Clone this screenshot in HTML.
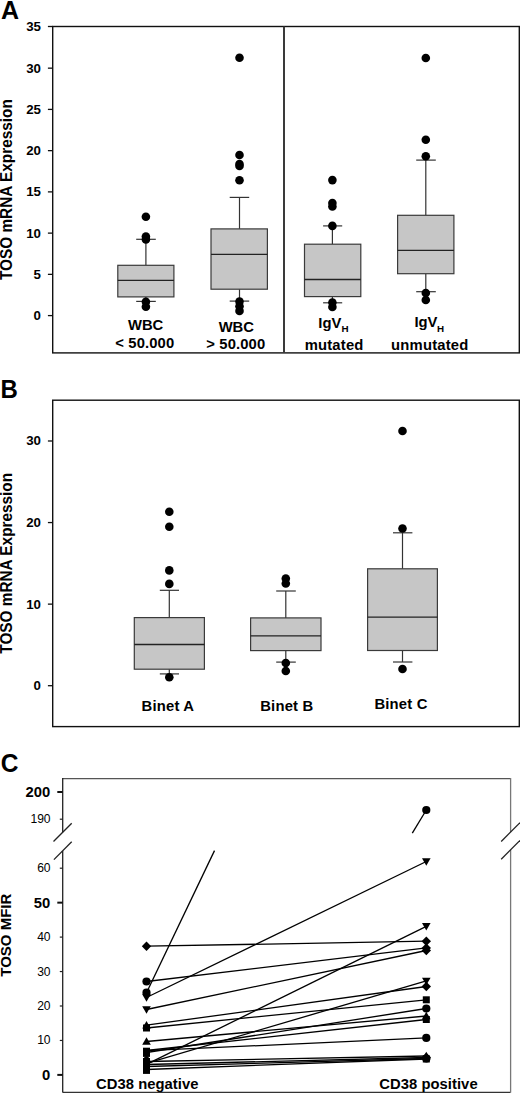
<!DOCTYPE html>
<html><head><meta charset="utf-8"><style>
html,body{margin:0;padding:0;background:#fff;overflow:hidden;}
svg{display:block;font-family:"Liberation Sans", sans-serif;}
</style></head><body>
<svg width="520" height="1095" viewBox="0 0 520 1095">
<rect width="520" height="1095" fill="#fff"/>
<text transform="translate(1.0,18.6) scale(1,1.03)" font-size="25" font-weight="bold" text-anchor="start">A</text>
<rect x="52.7" y="26.5" width="466.6" height="326.4" fill="none" stroke="#111" stroke-width="1.4"/>
<line x1="284" y1="26.5" x2="284" y2="352.9" stroke="#3a3a3a" stroke-width="2"/>
<line x1="47.9" y1="315.6" x2="52.7" y2="315.6" stroke="#111" stroke-width="1.3"/>
<text x="41.0" y="320.1" font-size="13.3" font-weight="bold" text-anchor="end">0</text>
<line x1="47.9" y1="274.36" x2="52.7" y2="274.36" stroke="#111" stroke-width="1.3"/>
<text x="41.0" y="278.86" font-size="13.3" font-weight="bold" text-anchor="end">5</text>
<line x1="47.9" y1="233.12" x2="52.7" y2="233.12" stroke="#111" stroke-width="1.3"/>
<text x="41.0" y="237.62" font-size="13.3" font-weight="bold" text-anchor="end">10</text>
<line x1="47.9" y1="191.88" x2="52.7" y2="191.88" stroke="#111" stroke-width="1.3"/>
<text x="41.0" y="196.38" font-size="13.3" font-weight="bold" text-anchor="end">15</text>
<line x1="47.9" y1="150.64" x2="52.7" y2="150.64" stroke="#111" stroke-width="1.3"/>
<text x="41.0" y="155.14" font-size="13.3" font-weight="bold" text-anchor="end">20</text>
<line x1="47.9" y1="109.4" x2="52.7" y2="109.4" stroke="#111" stroke-width="1.3"/>
<text x="41.0" y="113.9" font-size="13.3" font-weight="bold" text-anchor="end">25</text>
<line x1="47.9" y1="68.16" x2="52.7" y2="68.16" stroke="#111" stroke-width="1.3"/>
<text x="41.0" y="72.66" font-size="13.3" font-weight="bold" text-anchor="end">30</text>
<line x1="47.9" y1="26.5" x2="52.7" y2="26.5" stroke="#111" stroke-width="1.3"/>
<text x="41.0" y="31.0" font-size="13.3" font-weight="bold" text-anchor="end">35</text>
<text x="0" y="0" font-size="15.35" font-weight="bold" text-anchor="middle" transform="translate(11.8,189.6) rotate(-90) scale(1,1.04)">TOSO mRNA Expression</text>
<line x1="145.9" y1="239.3" x2="145.9" y2="265.3" stroke="#333" stroke-width="1.2"/>
<line x1="145.9" y1="296.9" x2="145.9" y2="301.4" stroke="#333" stroke-width="1.2"/>
<line x1="136.2" y1="239.3" x2="155.8" y2="239.3" stroke="#333" stroke-width="1.2"/>
<line x1="136.2" y1="301.4" x2="155.8" y2="301.4" stroke="#333" stroke-width="1.2"/>
<rect x="117.8" y="265.3" width="56.10000000000001" height="31.599999999999966" fill="#c6c6c6" stroke="#3a3a3a" stroke-width="1.2"/>
<line x1="117.8" y1="280.4" x2="173.9" y2="280.4" stroke="#222" stroke-width="1.3"/>
<circle cx="145.9" cy="216.8" r="4.3" fill="#000"/>
<circle cx="145.9" cy="236.5" r="4.3" fill="#000"/>
<circle cx="145.9" cy="239.5" r="4.3" fill="#000"/>
<circle cx="145.9" cy="301.8" r="4.3" fill="#000"/>
<circle cx="145.9" cy="306.8" r="4.3" fill="#000"/>
<line x1="239.5" y1="197.4" x2="239.5" y2="228.9" stroke="#333" stroke-width="1.2"/>
<line x1="239.5" y1="289.2" x2="239.5" y2="301.1" stroke="#333" stroke-width="1.2"/>
<line x1="229.7" y1="197.4" x2="249.2" y2="197.4" stroke="#333" stroke-width="1.2"/>
<line x1="229.7" y1="301.1" x2="249.2" y2="301.1" stroke="#333" stroke-width="1.2"/>
<rect x="211" y="228.9" width="56.39999999999998" height="60.29999999999998" fill="#c6c6c6" stroke="#3a3a3a" stroke-width="1.2"/>
<line x1="211" y1="254.3" x2="267.4" y2="254.3" stroke="#222" stroke-width="1.3"/>
<circle cx="239.5" cy="57.8" r="4.3" fill="#000"/>
<circle cx="239.5" cy="155" r="4.3" fill="#000"/>
<circle cx="239.5" cy="164" r="4.3" fill="#000"/>
<circle cx="239.5" cy="166" r="4.3" fill="#000"/>
<circle cx="239.5" cy="180.3" r="4.3" fill="#000"/>
<circle cx="239.5" cy="301.5" r="4.3" fill="#000"/>
<circle cx="239.5" cy="306.2" r="4.3" fill="#000"/>
<circle cx="239.5" cy="310.9" r="4.3" fill="#000"/>
<line x1="332.4" y1="225.9" x2="332.4" y2="244.2" stroke="#333" stroke-width="1.2"/>
<line x1="332.4" y1="296.6" x2="332.4" y2="302.8" stroke="#333" stroke-width="1.2"/>
<line x1="323.1" y1="225.9" x2="342.2" y2="225.9" stroke="#333" stroke-width="1.2"/>
<line x1="323.1" y1="302.8" x2="342.2" y2="302.8" stroke="#333" stroke-width="1.2"/>
<rect x="304.5" y="244.2" width="56.30000000000001" height="52.400000000000034" fill="#c6c6c6" stroke="#3a3a3a" stroke-width="1.2"/>
<line x1="304.5" y1="279.5" x2="360.8" y2="279.5" stroke="#222" stroke-width="1.3"/>
<circle cx="332.4" cy="180.1" r="4.3" fill="#000"/>
<circle cx="332.4" cy="203" r="4.3" fill="#000"/>
<circle cx="332.4" cy="206.5" r="4.3" fill="#000"/>
<circle cx="332.4" cy="225.9" r="4.3" fill="#000"/>
<circle cx="332.4" cy="302.5" r="4.3" fill="#000"/>
<circle cx="332.4" cy="307" r="4.3" fill="#000"/>
<line x1="425.8" y1="160.1" x2="425.8" y2="215.3" stroke="#333" stroke-width="1.2"/>
<line x1="425.8" y1="273.7" x2="425.8" y2="291.7" stroke="#333" stroke-width="1.2"/>
<line x1="416.2" y1="160.1" x2="435.8" y2="160.1" stroke="#333" stroke-width="1.2"/>
<line x1="416.2" y1="291.7" x2="435.8" y2="291.7" stroke="#333" stroke-width="1.2"/>
<rect x="397.6" y="215.3" width="56.299999999999955" height="58.39999999999998" fill="#c6c6c6" stroke="#3a3a3a" stroke-width="1.2"/>
<line x1="397.6" y1="250.3" x2="453.9" y2="250.3" stroke="#222" stroke-width="1.3"/>
<circle cx="425.8" cy="58" r="4.3" fill="#000"/>
<circle cx="425.8" cy="139.7" r="4.3" fill="#000"/>
<circle cx="425.8" cy="156.2" r="4.3" fill="#000"/>
<circle cx="425.8" cy="293" r="4.3" fill="#000"/>
<circle cx="425.8" cy="300" r="4.3" fill="#000"/>
<text transform="translate(145.6,330.2) scale(1,1.05)" font-size="14.8" font-weight="bold" text-anchor="middle">WBC</text>
<text transform="translate(144.8,347.7) scale(1,1.05)" font-size="14.8" font-weight="bold" text-anchor="middle" letter-spacing="0.12">&lt; 50.000</text>
<text transform="translate(236.3,331.7) scale(1,1.05)" font-size="14.8" font-weight="bold" text-anchor="middle">WBC</text>
<text transform="translate(235.8,349.4) scale(1,1.05)" font-size="14.8" font-weight="bold" text-anchor="middle" letter-spacing="0.12">&gt; 50.000</text>
<text transform="translate(318.3,327.7) scale(1,1.02)" font-size="14.8" font-weight="bold" text-anchor="start">IgV</text>
<text x="341.6" y="332.3" font-size="9.8" font-weight="bold" text-anchor="start">H</text>
<text transform="translate(334.1,349.7) scale(1,1.05)" font-size="14.8" font-weight="bold" text-anchor="middle" letter-spacing="0.2">mutated</text>
<text transform="translate(414.4,327.0) scale(1,1.02)" font-size="14.8" font-weight="bold" text-anchor="start">IgV</text>
<text x="437.1" y="332.0" font-size="9.8" font-weight="bold" text-anchor="start">H</text>
<text transform="translate(429.8,349.8) scale(1,1.05)" font-size="14.8" font-weight="bold" text-anchor="middle" letter-spacing="0.2">unmutated</text>
<text transform="translate(0.4,397.6) scale(1,1.05)" font-size="24" font-weight="bold" text-anchor="start">B</text>
<rect x="52.7" y="400.2" width="466.6" height="326.4" fill="none" stroke="#111" stroke-width="1.4"/>
<line x1="47.9" y1="685.7" x2="52.7" y2="685.7" stroke="#111" stroke-width="1.3"/>
<text x="41.0" y="690.2" font-size="13.3" font-weight="bold" text-anchor="end">0</text>
<line x1="47.9" y1="604.13" x2="52.7" y2="604.13" stroke="#111" stroke-width="1.3"/>
<text x="41.0" y="608.63" font-size="13.3" font-weight="bold" text-anchor="end">10</text>
<line x1="47.9" y1="522.56" x2="52.7" y2="522.56" stroke="#111" stroke-width="1.3"/>
<text x="41.0" y="527.06" font-size="13.3" font-weight="bold" text-anchor="end">20</text>
<line x1="47.9" y1="440.99" x2="52.7" y2="440.99" stroke="#111" stroke-width="1.3"/>
<text x="41.0" y="445.49" font-size="13.3" font-weight="bold" text-anchor="end">30</text>
<text x="0" y="0" font-size="15.35" font-weight="bold" text-anchor="middle" transform="translate(11.8,563.3) rotate(-90) scale(1,1.04)">TOSO mRNA Expression</text>
<line x1="169.3" y1="590.3" x2="169.3" y2="617.6" stroke="#333" stroke-width="1.2"/>
<line x1="169.3" y1="669.2" x2="169.3" y2="673.9" stroke="#333" stroke-width="1.2"/>
<line x1="159.8" y1="590.3" x2="179" y2="590.3" stroke="#333" stroke-width="1.2"/>
<line x1="159.8" y1="673.9" x2="179" y2="673.9" stroke="#333" stroke-width="1.2"/>
<rect x="134.3" y="617.6" width="70.1" height="51.60000000000002" fill="#c6c6c6" stroke="#3a3a3a" stroke-width="1.2"/>
<line x1="134.3" y1="644.5" x2="204.4" y2="644.5" stroke="#222" stroke-width="1.3"/>
<circle cx="169.3" cy="511.8" r="4.3" fill="#000"/>
<circle cx="169.3" cy="526.8" r="4.3" fill="#000"/>
<circle cx="169.3" cy="570.4" r="4.3" fill="#000"/>
<circle cx="169.3" cy="583.9" r="4.3" fill="#000"/>
<circle cx="169.3" cy="677.2" r="4.3" fill="#000"/>
<line x1="285.8" y1="591" x2="285.8" y2="617.9" stroke="#333" stroke-width="1.2"/>
<line x1="285.8" y1="650.6" x2="285.8" y2="662.1" stroke="#333" stroke-width="1.2"/>
<line x1="276.2" y1="591" x2="295.8" y2="591" stroke="#333" stroke-width="1.2"/>
<line x1="276.2" y1="662.1" x2="295.8" y2="662.1" stroke="#333" stroke-width="1.2"/>
<rect x="250.6" y="617.9" width="70.4" height="32.700000000000045" fill="#c6c6c6" stroke="#3a3a3a" stroke-width="1.2"/>
<line x1="250.6" y1="635.8" x2="321" y2="635.8" stroke="#222" stroke-width="1.3"/>
<circle cx="285.8" cy="578.5" r="4.3" fill="#000"/>
<circle cx="285.8" cy="583.5" r="4.3" fill="#000"/>
<circle cx="285.8" cy="663" r="4.3" fill="#000"/>
<circle cx="285.8" cy="671" r="4.3" fill="#000"/>
<line x1="402.5" y1="532.8" x2="402.5" y2="568.8" stroke="#333" stroke-width="1.2"/>
<line x1="402.5" y1="650.5" x2="402.5" y2="662" stroke="#333" stroke-width="1.2"/>
<line x1="393" y1="532.8" x2="412.4" y2="532.8" stroke="#333" stroke-width="1.2"/>
<line x1="393" y1="662" x2="412.4" y2="662" stroke="#333" stroke-width="1.2"/>
<rect x="367.6" y="568.8" width="69.79999999999995" height="81.70000000000005" fill="#c6c6c6" stroke="#3a3a3a" stroke-width="1.2"/>
<line x1="367.6" y1="617.1" x2="437.4" y2="617.1" stroke="#222" stroke-width="1.3"/>
<circle cx="402.5" cy="431" r="4.3" fill="#000"/>
<circle cx="402.5" cy="528.5" r="4.3" fill="#000"/>
<circle cx="402.5" cy="669" r="4.3" fill="#000"/>
<text transform="translate(167.9,710.7) scale(1,1.05)" font-size="14.8" font-weight="bold" text-anchor="middle" letter-spacing="0.2">Binet A</text>
<text transform="translate(286.8,711.2) scale(1,1.05)" font-size="14.8" font-weight="bold" text-anchor="middle" letter-spacing="0.2">Binet B</text>
<text transform="translate(401,709.1) scale(1,1.05)" font-size="14.8" font-weight="bold" text-anchor="middle" letter-spacing="0.2">Binet C</text>
<text transform="translate(0.8,772.3) scale(1,1.03)" font-size="24.5" font-weight="bold" text-anchor="start">C</text>
<line x1="62.7" y1="778.6" x2="510.6" y2="778.6" stroke="#555" stroke-width="1.3"/>
<line x1="62.7" y1="1092.4" x2="510.6" y2="1092.4" stroke="#333" stroke-width="1.3"/>
<line x1="62.7" y1="778" x2="62.7" y2="832.3" stroke="#222" stroke-width="1.3"/>
<line x1="62.7" y1="850.9" x2="62.7" y2="1092.6" stroke="#222" stroke-width="1.3"/>
<line x1="510.6" y1="778" x2="510.6" y2="832.2" stroke="#777" stroke-width="1.3"/>
<line x1="510.6" y1="849.9" x2="510.6" y2="1092.6" stroke="#777" stroke-width="1.3"/>
<line x1="53.5" y1="841.5" x2="71.7" y2="823.3" stroke="#222" stroke-width="1.3"/>
<line x1="53.9" y1="859.6" x2="71.7" y2="841.8" stroke="#222" stroke-width="1.3"/>
<line x1="501.2" y1="841.5" x2="520" y2="822.7" stroke="#222" stroke-width="1.3"/>
<line x1="501.2" y1="859.2" x2="520" y2="840.4" stroke="#222" stroke-width="1.3"/>
<line x1="57.3" y1="792" x2="62.7" y2="792" stroke="#111" stroke-width="2"/>
<text transform="translate(50.3,797.3) scale(1,1.02)" font-size="14.8" font-weight="bold" text-anchor="end">200</text>
<line x1="59.8" y1="819.2" x2="62.7" y2="819.2" stroke="#222" stroke-width="1.2"/>
<text x="50.6" y="823.2" font-size="12.1" font-weight="normal" text-anchor="end">190</text>
<line x1="59.8" y1="868.2" x2="62.7" y2="868.2" stroke="#222" stroke-width="1.2"/>
<text x="50.6" y="872.2" font-size="12.1" font-weight="normal" text-anchor="end">60</text>
<line x1="57.3" y1="902.65" x2="62.7" y2="902.65" stroke="#111" stroke-width="2"/>
<text transform="translate(50.3,907.95) scale(1,1.02)" font-size="14.8" font-weight="bold" text-anchor="end">50</text>
<line x1="59.8" y1="937.1" x2="62.7" y2="937.1" stroke="#222" stroke-width="1.2"/>
<text x="50.6" y="941.1" font-size="12.1" font-weight="normal" text-anchor="end">40</text>
<line x1="59.8" y1="971.55" x2="62.7" y2="971.55" stroke="#222" stroke-width="1.2"/>
<text x="50.6" y="975.55" font-size="12.1" font-weight="normal" text-anchor="end">30</text>
<line x1="59.8" y1="1006.0" x2="62.7" y2="1006.0" stroke="#222" stroke-width="1.2"/>
<text x="50.6" y="1010.0" font-size="12.1" font-weight="normal" text-anchor="end">20</text>
<line x1="59.8" y1="1040.45" x2="62.7" y2="1040.45" stroke="#222" stroke-width="1.2"/>
<text x="50.6" y="1044.45" font-size="12.1" font-weight="normal" text-anchor="end">10</text>
<line x1="57.3" y1="1074.9" x2="62.7" y2="1074.9" stroke="#111" stroke-width="2"/>
<text transform="translate(50.3,1080.2) scale(1,1.02)" font-size="14.8" font-weight="bold" text-anchor="end">0</text>
<text x="0" y="0" font-size="15.0" font-weight="bold" text-anchor="middle" transform="translate(11,935.2) rotate(-90)">TOSO MFIR</text>
<line x1="146.5" y1="946.2" x2="426.3" y2="941.2" stroke="#000" stroke-width="1.3"/>
<line x1="146.5" y1="981.5" x2="426.3" y2="947.9" stroke="#000" stroke-width="1.3"/>
<line x1="146.5" y1="997.5" x2="426.3" y2="861.5" stroke="#000" stroke-width="1.3"/>
<line x1="146.5" y1="1009.5" x2="426.3" y2="950.5" stroke="#000" stroke-width="1.3"/>
<line x1="146.5" y1="1025.2" x2="426.3" y2="986.5" stroke="#000" stroke-width="1.3"/>
<line x1="146.5" y1="1028" x2="426.3" y2="999.8" stroke="#000" stroke-width="1.3"/>
<line x1="146.5" y1="1041.5" x2="426.3" y2="1016" stroke="#000" stroke-width="1.3"/>
<line x1="146.5" y1="1052.5" x2="426.3" y2="1008.5" stroke="#000" stroke-width="1.3"/>
<line x1="146.5" y1="1050.5" x2="426.3" y2="1019.5" stroke="#000" stroke-width="1.3"/>
<line x1="146.5" y1="1050.7" x2="426.3" y2="1037.9" stroke="#000" stroke-width="1.3"/>
<line x1="146.5" y1="1064.3" x2="426.3" y2="926.3" stroke="#000" stroke-width="1.3"/>
<line x1="146.5" y1="1063.3" x2="426.3" y2="980.9" stroke="#000" stroke-width="1.3"/>
<line x1="146.5" y1="1061.5" x2="426.3" y2="1056" stroke="#000" stroke-width="1.3"/>
<line x1="146.5" y1="1064.5" x2="426.3" y2="1057.5" stroke="#000" stroke-width="1.3"/>
<line x1="146.5" y1="1066.5" x2="426.3" y2="1058.5" stroke="#000" stroke-width="1.3"/>
<line x1="146.5" y1="1069.5" x2="426.3" y2="1059" stroke="#000" stroke-width="1.3"/>
<line x1="146.5" y1="992.7" x2="214.5" y2="850.6" stroke="#000" stroke-width="1.3"/>
<line x1="412.3" y1="833.1" x2="426.3" y2="810" stroke="#000" stroke-width="1.3"/>
<polygon points="146.5,941.5 151.2,946.2 146.5,950.9000000000001 141.8,946.2" fill="#000"/>
<polygon points="426.3,936.5 431.0,941.2 426.3,945.9000000000001 421.6,941.2" fill="#000"/>
<circle cx="146.5" cy="981.5" r="4.1" fill="#000"/>
<polygon points="426.3,943.1999999999999 431.0,947.9 426.3,952.6 421.6,947.9" fill="#000"/>
<polygon points="146.5,1001.7 150.8,994.3 142.2,994.3" fill="#000"/>
<polygon points="426.3,865.7 430.6,858.3 422.0,858.3" fill="#000"/>
<polygon points="146.5,1013.7 150.8,1006.3 142.2,1006.3" fill="#000"/>
<polygon points="426.3,945.8 431.0,950.5 426.3,955.2 421.6,950.5" fill="#000"/>
<polygon points="146.5,1021.0 150.8,1028.4 142.2,1028.4" fill="#000"/>
<polygon points="426.3,981.8 431.0,986.5 426.3,991.2 421.6,986.5" fill="#000"/>
<rect x="143.0" y="1024.5" width="7" height="7" fill="#000"/>
<rect x="422.8" y="996.3" width="7" height="7" fill="#000"/>
<polygon points="146.5,1037.3 150.8,1044.7 142.2,1044.7" fill="#000"/>
<polygon points="426.3,1011.8 430.6,1019.2 422.0,1019.2" fill="#000"/>
<circle cx="426.3" cy="1008.5" r="4.1" fill="#000"/>
<rect x="422.8" y="1016.0" width="7" height="7" fill="#000"/>
<circle cx="426.3" cy="1037.9" r="4.1" fill="#000"/>
<rect x="143.0" y="1060.8" width="7" height="7" fill="#000"/>
<polygon points="426.3,930.5 430.6,923.0999999999999 422.0,923.0999999999999" fill="#000"/>
<rect x="143.0" y="1059.8" width="7" height="7" fill="#000"/>
<polygon points="426.3,985.1 430.6,977.6999999999999 422.0,977.6999999999999" fill="#000"/>
<rect x="143.0" y="1058.0" width="7" height="7" fill="#000"/>
<polygon points="426.3,1051.8 430.6,1059.2 422.0,1059.2" fill="#000"/>
<rect x="143.0" y="1061.0" width="7" height="7" fill="#000"/>
<polygon points="426.3,1052.8 431.0,1057.5 426.3,1062.2 421.6,1057.5" fill="#000"/>
<rect x="143.0" y="1063.0" width="7" height="7" fill="#000"/>
<circle cx="426.3" cy="1058.5" r="4.1" fill="#000"/>
<rect x="143.0" y="1066.0" width="7" height="7" fill="#000"/>
<rect x="422.8" y="1055.5" width="7" height="7" fill="#000"/>
<circle cx="146.5" cy="992.7" r="4.1" fill="#000"/>
<circle cx="426.3" cy="810" r="4.1" fill="#000"/>
<rect x="143.0" y="1047.7" width="7" height="7" fill="#000"/>
<rect x="143.0" y="1049.9" width="7" height="7" fill="#000"/>
<rect x="143.0" y="1058.9" width="7" height="7" fill="#000"/>
<rect x="143.0" y="1062.7" width="7" height="7" fill="#000"/>
<rect x="143.0" y="1066.9" width="7" height="7" fill="#000"/>
<polygon points="146.5,1055.5 149.1,1057.8 146.5,1060 143.9,1057.8" fill="#000"/>
<text transform="translate(147.3,1088.8) scale(1,1.05)" font-size="14.8" font-weight="bold" text-anchor="middle" letter-spacing="0.04">CD38 negative</text>
<text transform="translate(428.5,1088.8) scale(1,1.05)" font-size="14.8" font-weight="bold" text-anchor="middle" letter-spacing="0.04">CD38 positive</text>
</svg></body></html>
